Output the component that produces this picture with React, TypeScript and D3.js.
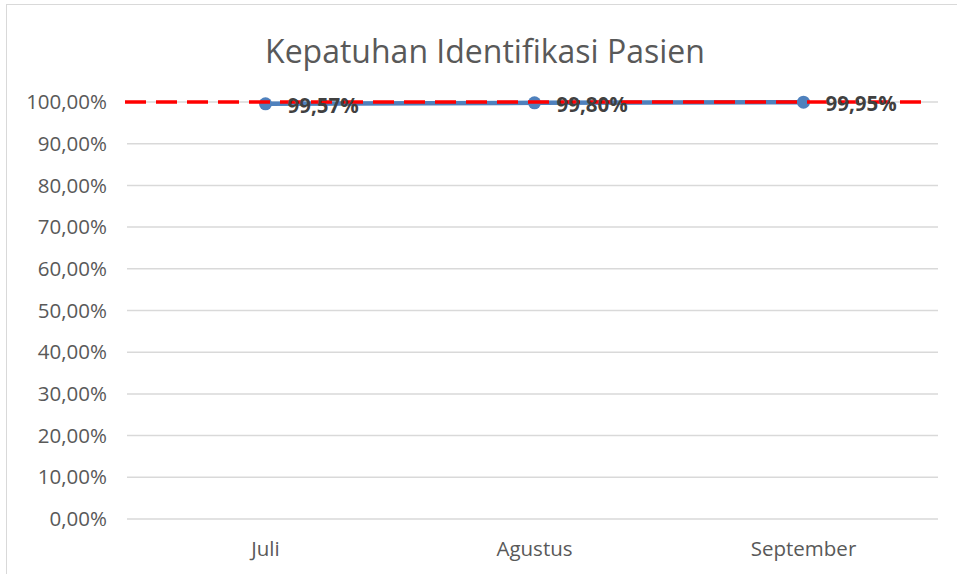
import React, { useEffect, useRef } from 'react';
import * as d3 from 'd3';

const months = ['Juli', 'Agustus', 'September'];
const kepatuhan = [99.57, 99.8, 99.95];
const target = [100, 100, 100];
const yTicks = [0, 10, 20, 30, 40, 50, 60, 70, 80, 90, 100];

const fmt = (v: number) => v.toFixed(2).replace('.', ',') + '%';

export default function App() {
  const ref = useRef<SVGSVGElement>(null);

  useEffect(() => {
    const width = 957;
    const height = 574;
    const left = 131;
    const right = 938;
    const top = 102;
    const bottom = 519;
    const font = '"Open Sans", sans-serif';

    const svg = d3.select(ref.current);
    svg.selectAll('*').remove();
    svg.attr('width', width).attr('height', height);

    // chart frame
    svg.append('rect')
      .attr('x', 6.5).attr('y', 4.5)
      .attr('width', width).attr('height', height)
      .attr('fill', 'white').attr('stroke', '#d9d9d9');

    const x = d3.scaleBand().domain(months).range([left, right]);
    const y = d3.scaleLinear().domain([0, 100]).range([bottom, top]);

    svg.append('text')
      .attr('x', 485).attr('y', 63)
      .attr('text-anchor', 'middle')
      .attr('font-family', font).attr('font-size', 32)
      .attr('fill', '#595959')
      .text('Kepatuhan Identifikasi Pasien');

    // gridlines
    svg.append('g').selectAll('line').data(yTicks).enter().append('line')
      .attr('x1', left - 4).attr('x2', right)
      .attr('y1', d => y(d)).attr('y2', d => y(d))
      .attr('stroke', '#d9d9d9').attr('stroke-width', 1.5);

    svg.append('g').selectAll('text').data(yTicks).enter().append('text')
      .attr('x', 107).attr('y', d => y(d))
      .attr('dy', '0.35em')
      .attr('text-anchor', 'end')
      .attr('font-family', font).attr('font-size', 20.5)
      .attr('fill', '#595959')
      .text(d => fmt(d));

    svg.append('g').selectAll('text').data(months).enter().append('text')
      .attr('x', d => (x(d) as number) + x.bandwidth() / 2).attr('y', 549)
      .attr('dy', '0.35em')
      .attr('text-anchor', 'middle')
      .attr('font-family', font).attr('font-size', 20.5)
      .attr('fill', '#595959')
      .text(d => d);

    const cx = (i: number) => (x(months[i]) as number) + x.bandwidth() / 2;

    const line = d3.line<number>()
      .x((_, i) => cx(i))
      .y(d => y(d));

    svg.append('path')
      .datum(kepatuhan)
      .attr('d', line)
      .attr('fill', 'none')
      .attr('stroke', '#4f81bd')
      .attr('stroke-width', 4.5);

    svg.append('g').selectAll('circle').data(kepatuhan).enter().append('circle')
      .attr('cx', (_, i) => cx(i)).attr('cy', d => y(d))
      .attr('r', 6.5)
      .attr('fill', '#4f81bd');

    // target line across the whole plot
    svg.append('line')
      .attr('x1', 125).attr('x2', right - 10)
      .attr('y1', y(target[0])).attr('y2', y(target[target.length - 1]))
      .attr('stroke', '#ff0000')
      .attr('stroke-width', 3.5)
      .attr('stroke-dasharray', '21,10');

    svg.append('g').selectAll('text').data(kepatuhan).enter().append('text')
      .attr('x', (_, i) => cx(i) + 22).attr('y', d => y(d) + 2)
      .attr('dy', '0.35em')
      .attr('font-family', font).attr('font-size', 20.5)
      .attr('font-weight', 'bold')
      .attr('fill', '#404040')
      .text(d => fmt(d));
  }, []);

  return (
    <div style={{ position: 'absolute', left: 0, top: 0 }}>
      <svg ref={ref} />
    </div>
  );
}
